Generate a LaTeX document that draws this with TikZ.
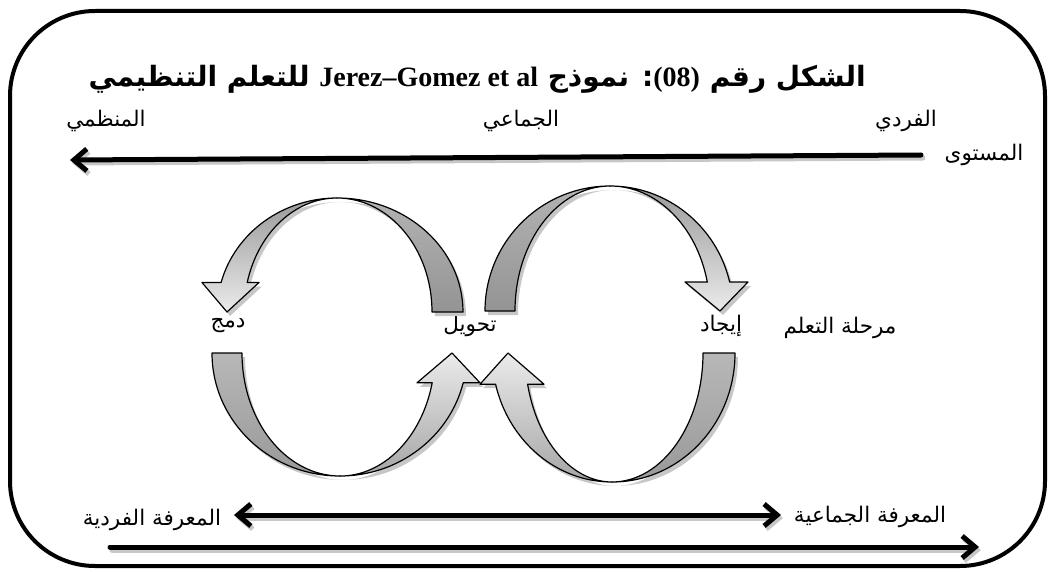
\documentclass[tikz,border=0pt]{standalone}
\usepackage{fontspec}
\usetikzlibrary{arrows.meta}
\TeXXeTstate=1
\newfontfamily\arabicfont[Script=Arabic]{DejaVu Sans}
\newfontfamily\latinserif{Liberation Serif}
\tikzset{
  lbl/.style={font=\arabicfont\fontsize{21.5}{25}\selectfont, inner sep=0pt},
  ttl/.style={font=\arabicfont\bfseries\fontsize{28}{32}\selectfont, inner sep=0pt},
  barbline/.style={line width=5pt, line cap=round, draw=black},
  shadowline/.style={line width=5pt, line cap=round, draw=black!22, transform canvas={shift={(2,3)}}},
  tipR/.style={-{Straight Barb[length=13pt,width=22pt]}},
  tipLR/.style={{Straight Barb[length=13pt,width=22pt]}-{Straight Barb[length=13pt,width=22pt]}},
  backpart/.style={draw=black, line width=1.2pt, line join=round},
  shd/.style={fill=black!22, draw=none, transform canvas={shift={(3,4)}}},
}
% circular arrow pieces
\def\ltDark{(463,312) arc[start angle=0,end angle=-90,x radius=126,y radius=114] arc[start angle=-90,end angle=0,x radius=95,y radius=114] -- cycle}
\def\ltLight{(337,198) arc[start angle=-90,end angle=-165,x radius=120,y radius=114] -- (202,282.5) -- (227,312) -- (259,282.5) -- (247.2,282.5) arc[start angle=-165,end angle=-90,x radius=93,y radius=114] -- cycle}
\def\rtDark{(485,311) arc[start angle=180,end angle=270,x radius=125,y radius=125] arc[start angle=270,end angle=180,x radius=95,y radius=125] -- cycle}
\def\rtLight{(610,186) arc[start angle=-90,end angle=-13.4,x radius=123,y radius=125] -- (748,282) -- (720,311) -- (685,282) -- (707.3,282) arc[start angle=-13.4,end angle=-90,x radius=100,y radius=125] -- cycle}
\def\lbDark{(212,353) arc[start angle=180,end angle=90,x radius=128,y radius=123] arc[start angle=90,end angle=180,x radius=98,y radius=123] -- cycle}
\def\lbLight{(340,476) arc[start angle=90,end angle=14,x radius=127,y radius=123] -- (480,382.8) -- (452,353) -- (417,382.8) -- (432.2,382.8) arc[start angle=14,end angle=90,x radius=95,y radius=123] -- cycle}
\def\rbDark{(735,353) arc[start angle=0,end angle=90,x radius=123,y radius=129] arc[start angle=90,end angle=0,x radius=91,y radius=129] -- cycle}
\def\rbLight{(612,482) arc[start angle=90,end angle=166,x radius=120,y radius=129] -- (480,384.2) -- (508,353) -- (544,384.2) -- (527.6,384.2) arc[start angle=166,end angle=90,x radius=87,y radius=129] -- cycle}
\begin{document}
\begin{tikzpicture}[x=1pt,y=-1pt]
\useasboundingbox (0,0) rectangle (1048,572);
% frame
\draw[line width=4pt, rounded corners=85pt] (10,11) rectangle (1045,566);
% title
\node[ttl, anchor=east] (title) at (866,79) {\beginR الشكل رقم \beginL{\latinserif\bfseries\fontsize{28}{32}\selectfont (08)}\endL: نموذج \beginL{\latinserif\bfseries\fontsize{28}{32}\selectfont Jerez–Gomez et al}\endL{} للتعلم التنظيمي\endR};
% level labels
\node[lbl] (org) at (106,121) {\beginR المنظمي\endR};
\node[lbl] (grp) at (521,121) {\beginR الجماعي\endR};
\node[lbl] (ind) at (906,121) {\beginR الفردي\endR};
\node[lbl] (lvl) at (984,155) {\beginR المستوى\endR};
\coordinate (lvlR) at (921,155);
\coordinate (lvlL) at (70,160);
\draw[shadowline, tipR] (lvlR) -- (lvlL);
\draw[barbline, tipR] (lvlR) -- (lvlL);
% stage labels
\node[lbl] (stage) at (840,328) {\beginR مرحلة التعلم\endR};
\node[lbl] (create) at (721,326) {\beginR إيجاد\endR};
\node[lbl] (transf) at (470,326) {\beginR تحويل\endR};
\node[lbl] (integ) at (228,326) {\beginR دمج\endR};
% shadows of circular arrows
\foreach \p in {\ltDark,\ltLight,\rtDark,\rtLight,\lbDark,\lbLight,\rbDark,\rbLight}{
  \path[shd] \p;
}
% circular arrows
\path[backpart, top color=black!30, bottom color=black!42] \ltDark;
\path[backpart, top color=black!40, bottom color=black!8] \ltLight;
\path[backpart, top color=black!30, bottom color=black!42] \rtDark;
\path[backpart, top color=black!40, bottom color=black!8] \rtLight;
\path[backpart, top color=black!28, bottom color=black!40] \lbDark;
\path[backpart, top color=black!8, bottom color=black!35] \lbLight;
\path[backpart, top color=black!28, bottom color=black!40] \rbDark;
\path[backpart, top color=black!8, bottom color=black!35] \rbLight;
% knowledge arrows
\node[lbl] (kgrp) at (870,517) {\beginR المعرفة الجماعية\endR};
\node[lbl] (kind) at (152,520) {\beginR المعرفة الفردية\endR};
\coordinate (dL) at (234,515);
\coordinate (dR) at (781,515);
\draw[shadowline, tipLR] (dL) -- (dR);
\draw[barbline, tipLR] (dL) -- (dR);
\coordinate (bL) at (110,547);
\coordinate (bR) at (979,547);
\draw[shadowline, tipR] (bL) -- (bR);
\draw[barbline, tipR] (bL) -- (bR);
\end{tikzpicture}
\end{document}
